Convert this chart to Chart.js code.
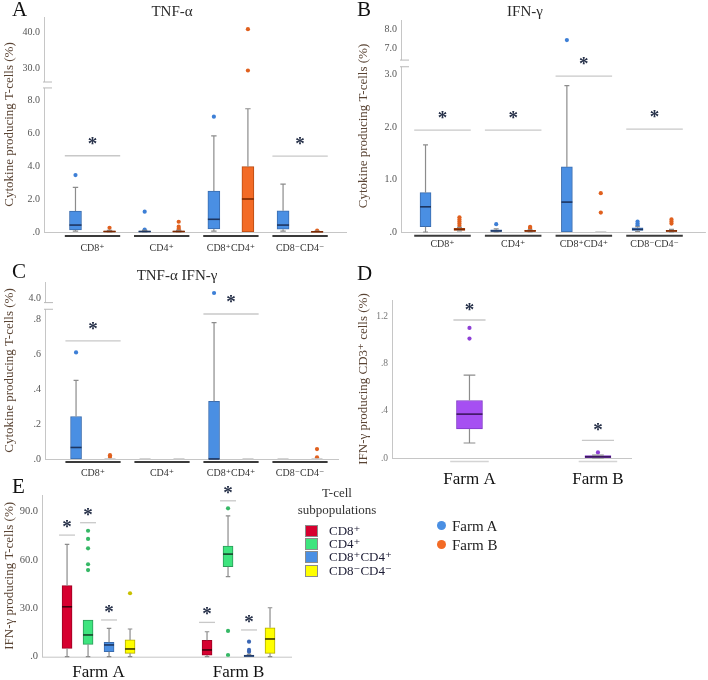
<!DOCTYPE html>
<html>
<head>
<meta charset="utf-8">
<script src="https://cdn.jsdelivr.net/npm/chart.js@4.4.1/dist/chart.umd.min.js"></script>
<style>
body { margin: 0; background: #fff; }
#fig { position: relative; width: 708px; height: 680px; overflow: hidden; font-family: 'Liberation Serif', 'DejaVu Serif', serif; color: #222; }
#fig canvas { position: absolute; }
.t { position: absolute; white-space: nowrap; transform: translate(-50%, -50%); }
.l { position: absolute; white-space: nowrap; transform: translateY(-50%); }
.letter { position: absolute; font-size: 21px; line-height: 21px; color: #111; }
.ttl { font-size: 15px; color: #2a2a2a; }
.sw { position: absolute; width: 11px; height: 10px; border: 1px solid #8c8c8c; }
.dot { position: absolute; width: 9px; height: 9px; border-radius: 50%; }
</style>
</head>
<body>
<div id="fig">
  <canvas id="chartA" width="354" height="262" style="left:0;top:0"></canvas>
  <canvas id="chartB" width="354" height="262" style="left:354px;top:0"></canvas>
  <canvas id="chartC" width="354" height="222" style="left:0;top:260px"></canvas>
  <canvas id="chartD" width="354" height="232" style="left:354px;top:260px"></canvas>
  <canvas id="chartE" width="300" height="210" style="left:0;top:470px"></canvas>

  <div class="letter" style="left:12px;top:-1px">A</div>
  <div class="letter" style="left:357px;top:-1px">B</div>
  <div class="letter" style="left:12px;top:261px">C</div>
  <div class="letter" style="left:357px;top:263px">D</div>
  <div class="letter" style="left:12px;top:476px">E</div>

  <div class="t ttl" style="left:172px;top:11px">TNF-α</div>
  <div class="t ttl" style="left:525px;top:11px">IFN-γ</div>
  <div class="t ttl" style="left:177px;top:275px">TNF-α IFN-γ</div>

  <div class="t" style="left:337px;top:493px;font-size:13px;color:#333">T-cell</div>
  <div class="t" style="left:337px;top:510px;font-size:13px;color:#333">subpopulations</div>
  <div class="sw" style="left:305px;top:525px;background:#d6002f"></div>
  <div class="sw" style="left:305px;top:538px;background:#3ee47e"></div>
  <div class="sw" style="left:305px;top:551px;background:#4a8fe3"></div>
  <div class="sw" style="left:305px;top:565px;background:#ffff00"></div>
  <div class="l" style="left:329px;top:531px;font-size:13px;color:#1c1c34">CD8⁺</div>
  <div class="l" style="left:329px;top:544px;font-size:13px;color:#1c1c34">CD4⁺</div>
  <div class="l" style="left:329px;top:557px;font-size:13px;color:#1c1c34">CD8⁺CD4⁺</div>
  <div class="l" style="left:329px;top:571px;font-size:13px;color:#1c1c34">CD8⁻CD4⁻</div>

  <div class="dot" style="left:437px;top:521px;background:#4a8fe3"></div>
  <div class="dot" style="left:437px;top:540px;background:#f36b26"></div>
  <div class="l" style="left:452px;top:526px;font-size:15px;color:#222">Farm A</div>
  <div class="l" style="left:452px;top:545px;font-size:15px;color:#222">Farm B</div>
</div>
<script>
// box stats are [lower whisker, q1, median, q3, upper whisker]
const cellGroups = ['CD8⁺', 'CD4⁺', 'CD8⁺CD4⁺', 'CD8⁻CD4⁻'];
const farms = ['Farm A', 'Farm B'];

// A: TNF-alpha
const tnfFarmA = [[0.05, 0.12, 0.42, 1.27, 2.7], [0, 0.01, 0.03, 0.06, 0.1], [0.05, 0.18, 0.77, 2.48, 5.82], [0.05, 0.17, 0.42, 1.29, 2.9]];
const tnfFarmAOut = [[3.45], [0.15, 1.23], [6.99], []];
const tnfFarmB = [[0, 0.01, 0.03, 0.06, 0.1], [0, 0.01, 0.03, 0.06, 0.1], [0, 0, 2.0, 3.96, 7.47], [0, 0, 0.01, 0.03, 0.05]];
const tnfFarmBOut = [[0.25], [0.12, 0.2, 0.32, 0.62], [29.3, 40.8], [0.08]];
const tnfSig = [4.62, null, null, 4.6];
const tnfTicks = [0, 2, 4, 6, 8, 30, 40];
const tnfTickLabels = ['.0', '2.0', '4.0', '6.0', '8.0', '30.0', '40.0'];

// B: IFN-gamma
const ifnFarmA = [[0, 0.1, 0.48, 0.75, 1.66], [0, 0.01, 0.02, 0.04, 0.06], [0, 0, 0.57, 1.24, 2.79], [0.01, 0.03, 0.05, 0.08, 0.1]];
const ifnFarmAOut = [[], [0.15], [7.43], [0.13, 0.16, 0.2]];
const ifnFarmB = [[0.02, 0.03, 0.05, 0.07, 0.09], [0, 0.01, 0.02, 0.03, 0.04], [0, 0, 0, 0, 0], [0, 0.01, 0.02, 0.03, 0.05]];
const ifnFarmBOut = [[0.12, 0.16, 0.2, 0.24, 0.28], [0.06, 0.08, 0.1], [0.37, 0.74], [0.16, 0.2, 0.24]];
const ifnSig = [1.94, 1.94, 2.97, 1.96];
const ifnTicks = [0, 1, 2, 3, 7, 8];
const ifnTickLabels = ['.0', '1.0', '2.0', '3.0', '7.0', '8.0'];

// C: TNF-alpha + IFN-gamma
const dualFarmA = [[0, 0, 0.066, 0.243, 0.45], [0, 0, 0, 0, 0], [0, 0, 0, 0.33, 0.78], [0, 0, 0, 0, 0]];
const dualFarmAOut = [[0.61], [], [4.3], []];
const dualFarmB = [[0, 0, 0, 0, 0], [0, 0, 0, 0, 0], [0, 0, 0, 0, 0], [0, 0, 0, 0, 0]];
const dualFarmBOut = [[0.012, 0.022], [], [], [0.01, 0.057]];
const dualSig = [0.676, null, 0.83, null];
const dualTicks = [0, 0.2, 0.4, 0.6, 0.8, 4];
const dualTickLabels = ['.0', '.2', '.4', '.6', '.8', '4.0'];

// D: IFN-gamma CD3
const cd3Ifn = [[0.127, 0.245, 0.371, 0.486, 0.70], [0, 0.003, 0.01, 0.02, 0.025]];
const cd3IfnOut = [[1.01, 1.10], [0.047]];
const cd3Sig = [1.167, 0.149];
const cd3Ticks = [0, 0.4, 0.8, 1.2];
const cd3TickLabels = ['.0', '.4', '.8', '1.2'];

// E: IFN-gamma by T-cell subpopulation, [Farm A, Farm B]
const subCD8 = [[0, 5.2, 31.0, 44.1, 69.8], [0, 1, 4.2, 10.2, 15.5]];
const subCD4 = [[0, 7.7, 13.5, 22.8, 22.8], [49.7, 55.9, 63.7, 68.7, 87.5]];
const subDP = [[0, 3.1, 7.3, 8.9, 17.6], [0, 0, 0.5, 1, 1.5]];
const subDN = [[0, 2.1, 4.8, 10.4, 17.2], [0, 2.1, 11, 18, 30.4]];
const subCD8Out = [[], []];
const subCD4Out = [[53.8, 57.4, 67.3, 73.1, 78.2], [1, 16, 92.1]];
const subDPOut = [[], [3, 4.2, 9.3]];
const subDNOut = [[39.4], []];
const subCD8Sig = [75.5, 21.3];
const subCD4Sig = [83.2, 96.8];
const subDPSig = [22.8, 16.6];
const subDNSig = [null, null];
const subTicks = [0, 30, 60, 90];
const subTickLabels = ['.0', '30.0', '60.0', '90.0'];

const farmAColor = { fill: '#4a8fe3', edge: '#3a6cae', median: '#1d3560', dot: '#3d7fd6' };
const farmBColor = { fill: '#f36b26', edge: '#b84b12', median: '#7a2800', dot: '#e0601e' };
const cd8Color = { fill: '#d6002f', edge: '#9c0022', median: '#3e000c', dot: '#c0002a' };
const cd4Color = { fill: '#3ee47e', edge: '#2b9a58', median: '#17452a', dot: '#36b866' };
const dpColor = { fill: '#4a8fe3', edge: '#3a6cae', median: '#1d3560', dot: '#3a66b4' };
const dnColor = { fill: '#ffff00', edge: '#b5ad00', median: '#3b3500', dot: '#c8c000' };
const cd3Color = { fill: '#a64ff2', edge: '#8139c8', median: '#3c1760', dot: '#8e3fd6' };

Chart.defaults.font.family = "'Liberation Serif', 'DejaVu Serif', serif";

// piecewise value -> axis mapping for the broken axes
function brokenAxis(limit, base, at, slope) {
  return v => (v <= limit ? v : at + (v - base) * slope);
}
const plainAxis = v => v;
const mapA = brokenAxis(9, 30, 9.94, 0.218);
const mapB = brokenAxis(3.2, 7, 3.5, 0.367);
const mapC = brokenAxis(0.88, 4, 0.92, 0.1);

function boxSets(stats, outliers, offset, col, map, thick) {
  return [
    {
      type: 'bar',
      data: stats.map((s, i) => ({ x: i + offset, y: [map(s[1]), map(s[3])] })),
      stats: stats.map(s => s.map(map)),
      medianColor: col.median,
      backgroundColor: col.fill,
      borderColor: col.edge,
      borderWidth: 1,
      borderSkipped: false,
      barThickness: thick,
      grouped: false
    },
    {
      type: 'scatter',
      data: outliers.flatMap((arr, i) => arr.map(v => ({ x: i + offset, y: map(v) }))),
      backgroundColor: col.dot,
      pointRadius: 2.1,
      pointBorderWidth: 0,
      pointHoverRadius: 0
    }
  ];
}

const boxPlugin = {
  id: 'boxes',
  afterDatasetsDraw(chart) {
    const ctx = chart.ctx, y = chart.scales.y;
    chart.data.datasets.forEach((ds, di) => {
      if (!ds.stats) return;
      chart.getDatasetMeta(di).data.forEach((bar, i) => {
        const s = ds.stats[i];
        const p = s.map(v => y.getPixelForValue(v));
        const x = bar.x, w = ds.barThickness, cap = w * 0.45;
        ctx.save();
        ctx.strokeStyle = '#8c8c8c';
        ctx.lineWidth = 1.2;
        ctx.beginPath();
        if (s[1] > s[0]) {
          ctx.moveTo(x, p[1]); ctx.lineTo(x, p[0]);
          ctx.moveTo(x - cap / 2, p[0]); ctx.lineTo(x + cap / 2, p[0]);
        }
        if (s[4] > s[3]) {
          ctx.moveTo(x, p[3]); ctx.lineTo(x, p[4]);
          ctx.moveTo(x - cap / 2, p[4]); ctx.lineTo(x + cap / 2, p[4]);
        }
        ctx.stroke();
        ctx.strokeStyle = s[3] - s[1] === 0 ? '#c8c8c8' : ds.medianColor;
        ctx.lineWidth = 1.6;
        ctx.beginPath();
        ctx.moveTo(x - w / 2, p[2]); ctx.lineTo(x + w / 2, p[2]);
        ctx.stroke();
        ctx.restore();
      });
    });
  }
};

function decor(cfg) {
  return {
    id: 'decor',
    beforeDatasetsDraw(chart) {
      const { ctx, chartArea: a } = chart;
      ctx.save();
      ctx.strokeStyle = '#c6c6c6';
      ctx.lineWidth = 1;
      ctx.beginPath();
      ctx.moveTo(a.left, a.bottom + 0.5);
      ctx.lineTo(a.right, a.bottom + 0.5);
      ctx.stroke();
      ctx.restore();
    },
    afterDraw(chart) {
      const { ctx, chartArea: a, scales: { x, y } } = chart;
      ctx.save();
      if (cfg.underline) {
        const u = cfg.underline;
        ctx.strokeStyle = u.color;
        ctx.lineWidth = u.width;
        cfg.groups.forEach((g, i) => {
          ctx.beginPath();
          ctx.moveTo(x.getPixelForValue(i - u.half), a.bottom + u.gap);
          ctx.lineTo(x.getPixelForValue(i + u.half), a.bottom + u.gap);
          ctx.stroke();
        });
      }
      ctx.fillStyle = cfg.labelColor;
      ctx.font = cfg.labelSize + "px 'Liberation Serif', 'DejaVu Serif', serif";
      ctx.textAlign = 'center';
      ctx.textBaseline = 'middle';
      cfg.groups.forEach((g, i) => ctx.fillText(g, x.getPixelForValue(i), a.bottom + cfg.labelDy));

      ctx.strokeStyle = '#c8c8c8';
      ctx.lineWidth = 1.3;
      ctx.fillStyle = '#28324a';
      ctx.font = "bold 19px 'Liberation Serif', serif";
      ctx.textBaseline = 'alphabetic';
      cfg.sigs.forEach(s => {
        const py = y.getPixelForValue(cfg.map(s.y));
        ctx.beginPath();
        ctx.moveTo(x.getPixelForValue(s.x - s.half), py);
        ctx.lineTo(x.getPixelForValue(s.x + s.half), py);
        ctx.stroke();
        ctx.fillText('*', x.getPixelForValue(s.x), py - cfg.starDy + 9);
      });

      if (cfg.breakAt) {
        const y1 = y.getPixelForValue(cfg.breakAt[0]), y2 = y.getPixelForValue(cfg.breakAt[1]);
        ctx.fillStyle = '#fff';
        ctx.fillRect(a.left - 2, y2, 4, y1 - y2);
        ctx.strokeStyle = '#b8b8b8';
        ctx.lineWidth = 1;
        [y1, y2].forEach(p => {
          ctx.beginPath();
          ctx.moveTo(a.left - 1, p);
          ctx.lineTo(a.left + 8, p);
          ctx.stroke();
        });
      }
      ctx.restore();
    }
  };
}

function boxChart(id, cfg) {
  const cv = document.getElementById(id);
  const W = cv.width, H = cv.height;
  return new Chart(cv, {
    type: 'bar',
    data: { datasets: cfg.datasets },
    options: {
      responsive: false,
      animation: false,
      events: [],
      layout: { padding: { left: 0, top: cfg.area[1], right: W - cfg.area[2], bottom: H - cfg.area[3] } },
      plugins: { legend: { display: false }, tooltip: { enabled: false } },
      scales: {
        x: { type: 'linear', min: cfg.xRange[0], max: cfg.xRange[1], offset: false, display: false },
        y: {
          min: 0,
          max: cfg.yMax,
          afterFit: s => { s.width = cfg.area[0]; },
          afterBuildTicks: s => { s.ticks = cfg.ticks.map(v => ({ value: cfg.map(v) })); },
          ticks: {
            autoSkip: false,
            padding: 4,
            color: cfg.tickColor,
            font: { size: cfg.tickSize },
            callback: (v, i) => cfg.tickLabels[i]
          },
          grid: { display: false, drawTicks: false },
          border: { color: '#c6c6c6' },
          title: {
            display: true,
            text: cfg.title,
            color: '#5a4434',
            font: { size: 13 },
            padding: { top: 2, bottom: 0 }
          }
        }
      }
    },
    plugins: [boxPlugin, decor(cfg)]
  });
}

function groupSigs(sig, half) {
  return sig.map((v, i) => (v == null ? null : { x: i, y: v, half: half })).filter(Boolean);
}

boxChart('chartA', {
  area: [44, 17, 347, 232], xRange: [-0.701, 3.678], yMax: 13.03, map: mapA,
  ticks: tnfTicks, tickLabels: tnfTickLabels, tickSize: 10, tickColor: '#555',
  title: 'Cytokine producing T-cells (%)',
  datasets: [...boxSets(tnfFarmA, tnfFarmAOut, -0.246, farmAColor, mapA, 12),
             ...boxSets(tnfFarmB, tnfFarmBOut, 0.246, farmBColor, mapA, 12)],
  groups: cellGroups, labelSize: 10, labelDy: 16, labelColor: '#333',
  underline: { half: 0.4, gap: 4, color: '#3a3a3a', width: 2 },
  sigs: groupSigs(tnfSig, 0.4), starDy: 15, breakAt: [8.73, 9.09]
});

boxChart('chartB', {
  area: [47, 20, 352, 232], xRange: [-0.587, 3.727], yMax: 4.04, map: mapB,
  ticks: ifnTicks, tickLabels: ifnTickLabels, tickSize: 10, tickColor: '#555',
  title: 'Cytokine producing T-cells (%)',
  datasets: [...boxSets(ifnFarmA, ifnFarmAOut, -0.24, farmAColor, mapB, 11),
             ...boxSets(ifnFarmB, ifnFarmBOut, 0.24, farmBColor, mapB, 11)],
  groups: cellGroups, labelSize: 10, labelDy: 12, labelColor: '#333',
  underline: { half: 0.4, gap: 3.7, color: '#3a3a3a', width: 2 },
  sigs: groupSigs(ifnSig, 0.4), starDy: 15, breakAt: [3.149, 3.276]
});

boxChart('chartC', {
  area: [45, 22, 339, 199], xRange: [-0.696, 3.565], yMax: 1.013, map: mapC,
  ticks: dualTicks, tickLabels: dualTickLabels, tickSize: 10, tickColor: '#555',
  title: 'Cytokine producing T-cells (%)',
  datasets: [...boxSets(dualFarmA, dualFarmAOut, -0.246, farmAColor, mapC, 11),
             ...boxSets(dualFarmB, dualFarmBOut, 0.246, farmBColor, mapC, 11)],
  groups: cellGroups, labelSize: 10, labelDy: 14, labelColor: '#333',
  underline: { half: 0.4, gap: 3, color: '#3a3a3a', width: 2 },
  sigs: groupSigs(dualSig, 0.4), starDy: 15, breakAt: [0.857, 0.895]
});

boxChart('chartD', {
  area: [38, 40, 278, 198], xRange: [-0.603, 1.265], yMax: 1.336, map: plainAxis,
  ticks: cd3Ticks, tickLabels: cd3TickLabels, tickSize: 9.5, tickColor: '#777',
  title: 'IFN-γ producing CD3⁺ cells (%)',
  datasets: boxSets(cd3Ifn, cd3IfnOut, 0, cd3Color, plainAxis, 26),
  groups: farms, labelSize: 17, labelDy: 22, labelColor: '#111',
  underline: { half: 0.15, gap: 3.4, color: '#d4d4d4', width: 1.5 },
  sigs: groupSigs(cd3Sig, 0.125), starDy: 13
});

const subSeries = [
  [subCD8, subCD8Out, subCD8Sig, cd8Color],
  [subCD4, subCD4Out, subCD4Sig, cd4Color],
  [subDP, subDPOut, subDPSig, dpColor],
  [subDN, subDNOut, subDNSig, dnColor]
];
const subOffsets = [-0.225, -0.075, 0.075, 0.225];
boxChart('chartE', {
  area: [42, 25, 292, 186.7], xRange: [-0.404, 1.382], yMax: 100.4, map: plainAxis,
  ticks: subTicks, tickLabels: subTickLabels, tickSize: 10.5, tickColor: '#555',
  title: 'IFN-γ producing T-cells (%)',
  datasets: subSeries.flatMap((s, k) => boxSets(s[0], s[1], subOffsets[k], s[3], plainAxis, 10)),
  groups: farms, labelSize: 17, labelDy: 16.3, labelColor: '#111',
  sigs: subSeries.flatMap((s, k) => s[2].map((v, i) => (v == null ? null : { x: i + subOffsets[k], y: v, half: 0.057 }))).filter(Boolean),
  starDy: 11
});
</script>
</body>
</html>
